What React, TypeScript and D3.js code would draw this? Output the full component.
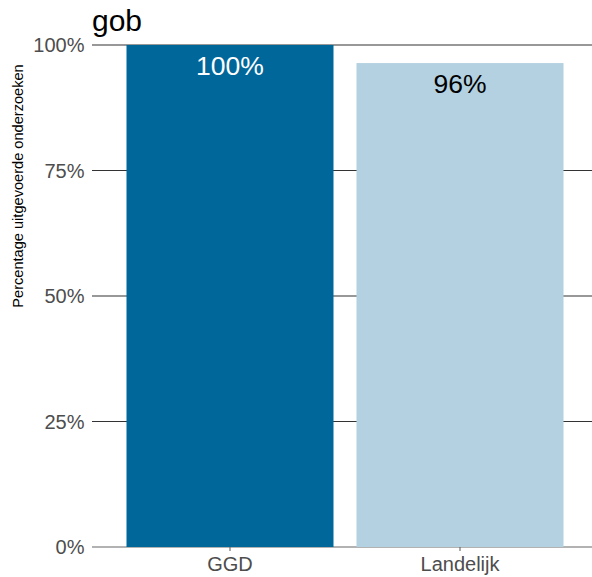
import React from "react";
import * as d3 from "d3";

const categories = ["GGD", "Landelijk"];
const values = [100, 96.4];
const valueLabels = ["100%", "96%"];
const barColors = ["#00679b", "#b3d1e1"];
const labelColors = ["#ffffff", "#000000"];
const yTicks = [0, 25, 50, 75, 100];
const title = "gob";
const yTitle = "Percentage uitgevoerde onderzoeken";

const W = 592;
const H = 577;
const FONT = "'Liberation Sans', Arial, Helvetica, sans-serif";

export default function App() {
  const x = d3
    .scaleBand<string>()
    .domain(categories)
    .range([92, 598])
    .paddingInner(0.1)
    .paddingOuter(0.15);
  const y = d3.scaleLinear().domain([0, 100]).range([547, 45]);

  return (
    <svg
      width={W}
      height={H}
      style={{ position: "absolute", left: 0, top: 0, background: "#fff" }}
      fontFamily={FONT}
    >
      <rect x={0} y={0} width={W} height={H} fill="#fff" />
      {/* gridlines */}
      {yTicks.map((t) => (
        <line
          key={"g" + t}
          x1={92}
          x2={W}
          y1={y(t)}
          y2={y(t)}
          stroke={t === 0 ? "#666" : "#333"}
          strokeWidth={1.1}
        />
      ))}
      {/* bars */}
      {categories.map((c, i) => (
        <rect
          key={c}
          x={x(c)}
          y={y(values[i])}
          width={x.bandwidth()}
          height={y(0) - y(values[i])}
          fill={barColors[i]}
        />
      ))}
      {/* bar labels */}
      {categories.map((c, i) => (
        <text
          key={"l" + c}
          x={(x(c) as number) + x.bandwidth() / 2}
          y={y(values[i]) + 30}
          textAnchor="middle"
          fontSize={26.5}
          fill={labelColors[i]}
        >
          {valueLabels[i]}
        </text>
      ))}
      {/* y tick labels */}
      {yTicks.map((t) => (
        <text
          key={"t" + t}
          x={84.5}
          y={y(t)}
          dy="0.36em"
          textAnchor="end"
          fontSize={20}
          fill="#4d4d4d"
        >
          {t + "%"}
        </text>
      ))}
      {/* x ticks */}
      {categories.map((c) => {
        const cx = (x(c) as number) + x.bandwidth() / 2;
        return (
          <g key={"x" + c}>
            <line x1={cx} x2={cx} y1={547} y2={551} stroke="#666" strokeWidth={1.1} />
            <text x={cx} y={571} textAnchor="middle" fontSize={20} fill="#4d4d4d">
              {c}
            </text>
          </g>
        );
      })}
      {/* y axis title */}
      <text
        transform={`translate(23,186) rotate(-90)`}
        textAnchor="middle"
        fontSize={14.6}
        fill="#000"
      >
        {yTitle}
      </text>
      {/* title */}
      <text x={92} y={31} fontSize={30} fill="#000">
        {title}
      </text>
    </svg>
  );
}
